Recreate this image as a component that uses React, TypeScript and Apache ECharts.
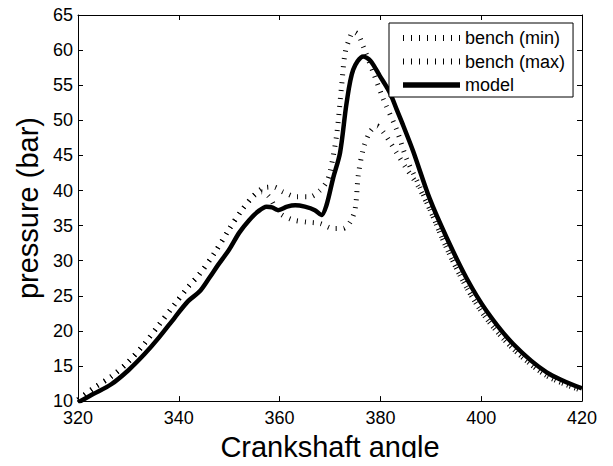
import React, { useEffect, useRef } from "react";
import * as echarts from "echarts";

const xTicks = { min: 320, max: 420, interval: 20 };
const yTicks = { min: 10, max: 65, interval: 5 };

const seriesNames = ["bench (min)", "bench (max)", "model"];

const modelAngle = [320, 323, 326.6, 330, 333.2, 336, 339.2, 341.8, 344.1, 346, 347.8, 350, 352, 354, 355.7, 357.4, 358.5, 359.7, 361.5, 363.1, 365, 367, 368.3, 369.3, 370.6, 372, 373.3, 374.6, 376.6, 378, 379.9, 381.9, 383.2, 384.5, 386.5, 389.8, 393.2, 397.1, 401.1, 406.4, 413, 420];
const modelPressure = [9.8, 11.0, 12.4, 14.4, 16.7, 19.0, 21.9, 24.2, 25.6, 27.5, 29.4, 31.6, 34.0, 35.8, 37.0, 37.7, 37.6, 37.2, 37.7, 37.9, 37.7, 37.2, 36.5, 37.9, 41.7, 45.4, 52.5, 57.2, 59.1, 58.5, 56.3, 53.9, 51.6, 49.3, 45.6, 38.8, 33.2, 27.5, 22.8, 18.1, 14.1, 11.8];

const benchMaxAngle = [320, 323, 326.6, 330, 333.2, 336, 339.2, 342, 344, 347, 350, 352.5, 355, 357, 358.8, 360.7, 363.4, 366, 368, 369.3, 370, 371.3, 372.3, 373, 374, 374.6, 375.6, 376.6, 378.6, 380.6, 383.2, 385.2, 387.5, 390, 393.2, 397, 401, 406.4, 413, 420];
const benchMaxPressure = [10.2, 11.8, 13.5, 15.6, 18.2, 20.8, 23.8, 26.4, 28.0, 31.0, 34.5, 37.2, 39.4, 40.4, 40.5, 39.8, 39.1, 39.1, 40.0, 41.2, 42.6, 47.8, 54.9, 59.6, 61.9, 62.6, 62.2, 60.5, 56.8, 53.0, 48.7, 44.5, 41.0, 37.0, 31.7, 26.3, 21.8, 17.4, 13.6, 11.5];

const benchMinAngle = [320, 323, 326.6, 330, 333.2, 336, 339.2, 342, 344, 347, 350, 352.5, 355, 356.5, 357.8, 359, 360.1, 362.7, 365.4, 368, 370.6, 372.6, 374, 375, 375.6, 376.6, 377.9, 379.3, 380.6, 381.9, 383.2, 385.2, 387.5, 390, 393.2, 397, 401, 406.4, 413, 420];
const benchMinPressure = [10.2, 11.8, 13.5, 15.6, 18.2, 20.8, 23.8, 26.4, 28.0, 31.0, 34.5, 37.2, 39.3, 39.8, 39.2, 37.8, 36.7, 35.8, 35.5, 35.3, 34.6, 34.6, 35.5, 37.4, 42.1, 45.9, 48.3, 49.2, 48.3, 46.9, 45.4, 43.1, 40.6, 37.0, 31.7, 26.3, 21.8, 17.4, 13.6, 11.5];

const zip = (a: number[], b: number[]) => a.map((x, i) => [x, b[i]]);

const FONT = "Liberation Sans, Arial, Helvetica, sans-serif";

export default function App() {
  const ref = useRef<HTMLDivElement>(null);
  useEffect(() => {
    if (!ref.current) return;
    const chart = echarts.init(ref.current, undefined, { renderer: "svg" });
    const dotted = { color: "#000", width: 5, type: [1, 7] as number[], cap: "butt" as const };
    const axisCommon = {
      axisLine: { show: true, onZero: false, lineStyle: { color: "#000", width: 1 } },
      axisTick: { show: true, inside: true, length: 5, lineStyle: { color: "#000", width: 1 } },
      splitLine: { show: false },
    };
    chart.setOption({
      animation: false,
      textStyle: { fontFamily: FONT },
      grid: { left: 78, right: 31, top: 15, bottom: 61, containLabel: false },
      legend: {
        orient: "vertical",
        left: 389,
        top: 23,
        padding: [6, 8, 3, 11],
        itemGap: 5.5,
        itemWidth: 57,
        itemHeight: 14,
        borderColor: "#000",
        borderWidth: 1,
        backgroundColor: "#fff",
        selectedMode: false,
        itemStyle: { opacity: 0 },
        textStyle: { fontSize: 18, color: "#000", fontFamily: FONT },
        data: [
          { name: seriesNames[0], lineStyle: { width: 6, type: [1, 7], color: "#000", cap: "butt" } },
          { name: seriesNames[1], lineStyle: { width: 6, type: [1, 7], color: "#000", cap: "butt" } },
          { name: seriesNames[2], lineStyle: { width: 5.5, type: "solid", color: "#000" } },
        ],
      },
      xAxis: [
        {
          type: "value",
          min: xTicks.min,
          max: xTicks.max,
          interval: xTicks.interval,
          position: "bottom",
          ...axisCommon,
          axisLabel: { color: "#000", fontSize: 18, margin: 8, fontFamily: FONT },
          name: "Crankshaft angle",
          nameLocation: "middle",
          nameGap: 25,
          nameTextStyle: { fontSize: 29, color: "#000", fontFamily: FONT },
        },
        {
          type: "value",
          min: xTicks.min,
          max: xTicks.max,
          interval: xTicks.interval,
          position: "top",
          ...axisCommon,
          axisLabel: { show: false },
        },
      ],
      yAxis: [
        {
          type: "value",
          min: yTicks.min,
          max: yTicks.max,
          interval: yTicks.interval,
          position: "left",
          ...axisCommon,
          axisLabel: { color: "#000", fontSize: 18, margin: 5, fontFamily: FONT },
          name: "pressure (bar)",
          nameLocation: "middle",
          nameGap: 34,
          nameRotate: 90,
          nameTextStyle: { fontSize: 29, color: "#000", fontFamily: FONT },
        },
        {
          type: "value",
          min: yTicks.min,
          max: yTicks.max,
          interval: yTicks.interval,
          position: "right",
          ...axisCommon,
          axisLabel: { show: false },
        },
      ],
      series: [
        {
          name: seriesNames[0],
          type: "line",
          data: zip(benchMinAngle, benchMinPressure),
          symbol: "none",
          smooth: 0.3,
          lineStyle: dotted,
          itemStyle: { color: "#000" },
        },
        {
          name: seriesNames[1],
          type: "line",
          data: zip(benchMaxAngle, benchMaxPressure),
          symbol: "none",
          smooth: 0.3,
          lineStyle: dotted,
          itemStyle: { color: "#000" },
        },
        {
          name: seriesNames[2],
          type: "line",
          data: zip(modelAngle, modelPressure),
          symbol: "none",
          smooth: 0.3,
          lineStyle: { color: "#000", width: 4.5 },
          itemStyle: { color: "#000" },
        },
      ],
    });
    return () => chart.dispose();
  }, []);
  return <div ref={ref} style={{ width: 613, height: 466, margin: -8 }} />;
}
